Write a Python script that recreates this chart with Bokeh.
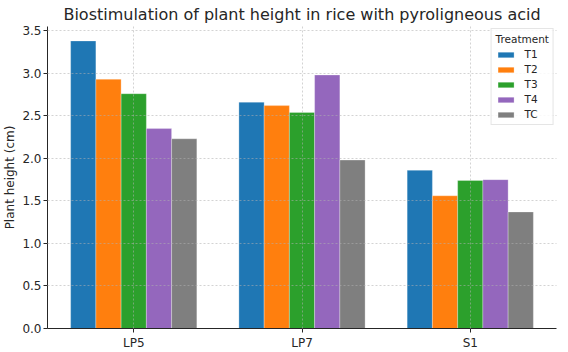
import numpy as np
from bokeh.plotting import figure
from bokeh.models import ColumnDataSource, FixedTicker, Legend, LegendItem, NumeralTickFormatter
from bokeh.transform import dodge
from bokeh.embed import file_html
from bokeh.resources import INLINE

categories = ["LP5", "LP7", "S1"]
treatments = ["T1", "T2", "T3", "T4", "TC"]
T1 = [3.38, 2.66, 1.86]
T2 = [2.93, 2.62, 1.56]
T3 = [2.76, 2.54, 1.74]
T4 = [2.35, 2.98, 1.75]
TC = [2.23, 1.98, 1.37]
series = [T1, T2, T3, T4, TC]
colors = ["#1f77b4", "#ff7f0e", "#2ca02c", "#9467bd", "#7f7f7f"]
y_ticks = [0.0, 0.5, 1.0, 1.5, 2.0, 2.5, 3.0, 3.5]

FONT = "DejaVu Sans"
bar_w = 0.15

p = figure(width=568, height=352, x_range=(-0.5125, 2.5125), y_range=(0, 3.55),
           output_backend="svg", toolbar_location=None,
           min_border_left=4, min_border_right=12, min_border_top=6, min_border_bottom=4,
           title="Biostimulation of plant height in rice with pyroligneous acid")
p.outline_line_color = None
p.background_fill_color = "white"
p.border_fill_color = "white"

p.title.text_font = FONT
p.title.text_font_size = "16px"
p.title.text_font_style = "normal"
p.title.text_color = "#262626"
p.title.align = "center"
p.title.standoff = 5

items = []
xs = list(range(len(categories)))
for i, (name, vals, col) in enumerate(zip(treatments, series, colors)):
    src = ColumnDataSource(dict(x=xs, top=vals))
    off = (i - 2) * bar_w
    r = p.vbar(x=dodge("x", off), top="top", width=bar_w, bottom=0, source=src,
               fill_color=col, line_color="white", line_alpha=0.35, line_width=0.8)
    items.append(LegendItem(label=name, renderers=[r]))

legend = Legend(items=items, location="top_right", title="Treatment")
legend.title_text_font = FONT
legend.title_text_font_size = "10.5px"
legend.title_text_font_style = "normal"
legend.title_text_color = "#262626"
legend.title_standoff = 3
legend.label_text_font = FONT
legend.label_text_font_size = "10.5px"
legend.label_text_color = "#262626"
legend.glyph_width = 20
legend.glyph_height = 7
legend.label_height = 12
legend.spacing = 3
legend.padding = 4
legend.margin = 2
legend.label_standoff = 9
legend.border_line_color = "#cccccc"
legend.border_line_width = 1
legend.background_fill_alpha = 0.85
p.add_layout(legend)

# axes
p.xaxis.ticker = FixedTicker(ticks=xs)
p.xaxis.major_label_overrides = {i: c for i, c in enumerate(categories)}
p.yaxis.ticker = FixedTicker(ticks=y_ticks)
p.yaxis.formatter = NumeralTickFormatter(format="0.0")
p.yaxis.axis_label = "Plant height (cm)"
for ax in (p.xaxis, p.yaxis):
    ax.axis_line_color = "#262626"
    ax.major_tick_line_color = "#262626"
    ax.major_tick_out = 4
    ax.major_tick_in = 0
    ax.minor_tick_line_color = None
    ax.major_label_text_font = FONT
    ax.major_label_text_font_size = "12px"
    ax.major_label_text_color = "#262626"
    ax.axis_label_text_font = FONT
    ax.axis_label_text_font_size = "12px"
    ax.axis_label_text_font_style = "normal"
    ax.axis_label_text_color = "#262626"
p.yaxis.major_label_standoff = 2
p.yaxis.axis_label_standoff = 2
p.xaxis.major_label_standoff = 3

for g in (p.xgrid, p.ygrid):
    g.grid_line_color = "#b0b0b0"
    g.grid_line_alpha = 0.7
    g.grid_line_dash = "2 2"
    g.grid_line_width = 0.8
    g.level = "overlay"

open("out.html", "w").write(file_html(p, INLINE))
